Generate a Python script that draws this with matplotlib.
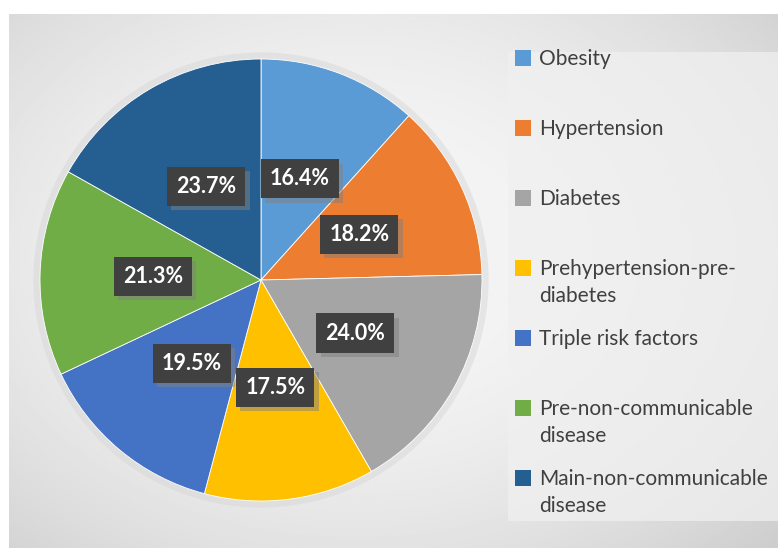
import numpy as np
import matplotlib
matplotlib.use("Agg")
import matplotlib.pyplot as plt
import matplotlib.patheffects as pe
from matplotlib.patches import Rectangle, Circle

categories = ["Obesity", "Hypertension", "Diabetes", "Prehypertension-pre-\ndiabetes",
              "Triple risk factors", "Pre-non-communicable\ndisease",
              "Main-non-communicable\ndisease"]
values = [16.4, 18.2, 24.0, 17.5, 19.5, 21.3, 23.7]
colors = ["#5B9BD5", "#ED7D31", "#A5A5A5", "#FFC000", "#4472C4", "#70AD47", "#255E91"]

plt.rcParams['font.family'] = ['Lato', 'DejaVu Sans']

W, H = 778, 548
fig = plt.figure(figsize=(W / 100, H / 100), dpi=100)
fig.patch.set_facecolor("white")

# gradient background
bg = fig.add_axes([9 / W, 0, 1 - 9 / W, 1 - 14 / H])
yy, xx = np.mgrid[0:1:300j, 0:1:400j]
r2 = ((xx - 0.45) / 0.75) ** 2 + ((yy - 0.45) / 0.8) ** 2
bg.imshow(0.965 - 0.16 * r2, cmap="gray", vmin=0, vmax=1, aspect="auto",
          extent=[0, 1, 1, 0], interpolation="bilinear")
bg.axis("off")

# legend panel
fig.patches.append(Rectangle((508 / W, 1 - 521 / H), 270 / W, 469 / H,
                             transform=fig.transFigure, fc="#f0f0f0", ec="none",
                             alpha=0.75, zorder=1))

# pie: centre (261, 280) px, radius 221 px
R = 221
ax = fig.add_axes([(261 - 1.05 * R) / W, 1 - (280 + 1.05 * R) / H,
                   2.1 * R / W, 2.1 * R / H])

total = sum(values)
wedges, texts, autotexts = ax.pie(
    values, colors=colors, startangle=90, counterclock=False,
    autopct=lambda p: f"{p * total / 100:.1f}%", pctdistance=0.49,
    wedgeprops=dict(edgecolor="white", linewidth=0.6),
    textprops=dict(color="white", fontsize=15.5, fontweight="bold"))
ax.set_xlim(-1.05, 1.05)
ax.set_ylim(-1.05, 1.05)
ax.set_aspect("equal")
ax.axis("off")
ax.add_patch(Circle((0, 0), 1.03, fc="#d8d8d8", ec="none", alpha=0.5, zorder=0))

for t in autotexts:
    t.set_bbox(dict(boxstyle="square,pad=0.42", fc="#404040", ec="none"))
    t.get_bbox_patch().set_path_effects(
        [pe.SimplePatchShadow(offset=(3, -3), shadow_rgbFace="#808080", alpha=0.5),
         pe.Normal()])
    t.set_zorder(5)

# legend
for i, (lab, c) in enumerate(zip(categories, colors)):
    yc = 58 + 70 * i
    fig.patches.append(Rectangle((515 / W, 1 - (yc + 8) / H), 16 / W, 16 / H,
                                 transform=fig.transFigure, fc=c, ec="none", zorder=3))
    fig.text(539 / W, 1 - (yc - 9) / H, lab, ha="left", va="top", fontsize=15,
             color="#404040", linespacing=1.45, zorder=3)

fig.savefig("out.png", dpi=100)
